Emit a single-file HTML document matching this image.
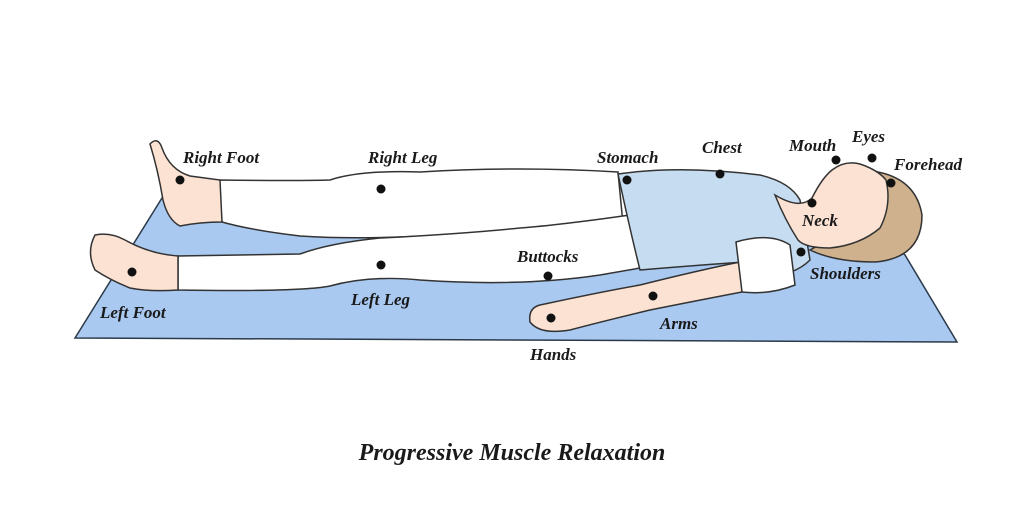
<!DOCTYPE html>
<html><head><style>
html,body{margin:0;padding:0;background:#fff;}
svg{display:block}
text{font-family:"Liberation Serif",serif;font-style:italic;font-weight:bold;fill:#1a1a1a;font-size:17px}
</style></head><body>
<svg width="1024" height="512" viewBox="0 0 1024 512">
<path d="M162,198 L300,196 L880,232 L905,255 L957,342 L75,338 Z" fill="#a9c9f1" stroke="#2b3a4a" stroke-width="1.5"/>
<path d="M218,180 Q300,181 330,180 Q360,170 420,172 Q520,166 618,172 L625,245 Q520,232 440,235 Q360,240 300,236 Q250,230 222,222 Z" fill="#fff" stroke="#333" stroke-width="1.5"/>
<path d="M150,144 Q158,136 162,148 Q170,170 190,176 L220,180 L222,222 Q200,222 180,226 Q168,220 163,200 Q158,170 150,144 Z" fill="#fbe2d3" stroke="#333" stroke-width="1.5"/>
<path d="M178,256 L178,290 Q300,292 330,286 Q370,275 420,280 Q520,287 600,275 L640,268 L630,215 Q560,225 520,228 Q460,234 380,238 Q330,243 300,254 Z" fill="#fff" stroke="#333" stroke-width="1.5"/>
<path d="M95,235 Q110,232 125,240 Q150,254 178,256 L178,290 Q150,292 130,288 Q110,280 95,270 Q86,252 95,235 Z" fill="#fbe2d3" stroke="#333" stroke-width="1.5"/>
<path d="M540,305 Q600,292 640,285 Q700,270 740,262 L742,292 Q700,300 650,310 Q600,322 570,330 Q540,335 530,322 Q528,308 540,305 Z" fill="#fbe2d3" stroke="#333" stroke-width="1.5"/>
<path d="M618,174 Q680,165 760,175 Q790,182 800,200 L810,260 Q790,280 750,275 L745,262 Q700,265 640,270 Q630,230 618,174 Z" fill="#c6dcf0" stroke="#333" stroke-width="1.5"/>
<path d="M736,242 Q770,232 790,245 L795,285 Q770,295 742,292 Z" fill="#fff" stroke="#333" stroke-width="1.5"/>
<!-- hair (behind) -->
<path d="M860,170 Q915,172 922,215 Q922,258 875,262 Q835,262 810,250 Q830,240 850,215 Z" fill="#cfb18e" stroke="#333" stroke-width="1.5"/>
<!-- face/neck -->
<path d="M775,195 Q800,210 812,198 Q822,178 832,170 Q845,160 860,164 Q878,170 886,180 Q892,205 880,228 Q860,245 830,248 Q805,248 798,240 Q785,220 775,195 Z" fill="#fbe2d3" stroke="#333" stroke-width="1.5"/>
<g fill="#111">
<circle cx="180" cy="180" r="4.5"/><circle cx="381" cy="189" r="4.5"/><circle cx="381" cy="265" r="4.5"/>
<circle cx="132" cy="272" r="4.5"/><circle cx="548" cy="276" r="4.5"/><circle cx="551" cy="318" r="4.5"/>
<circle cx="653" cy="296" r="4.5"/><circle cx="627" cy="180" r="4.5"/><circle cx="720" cy="174" r="4.5"/>
<circle cx="836" cy="160" r="4.5"/><circle cx="872" cy="158" r="4.5"/><circle cx="891" cy="183" r="4.5"/>
<circle cx="812" cy="203" r="4.5"/><circle cx="801" cy="252" r="4.5"/>
</g>
<text x="183" y="163">Right Foot</text>
<text x="368" y="163">Right Leg</text>
<text x="597" y="163">Stomach</text>
<text x="702" y="153">Chest</text>
<text x="789" y="151">Mouth</text>
<text x="852" y="142">Eyes</text>
<text x="894" y="170">Forehead</text>
<text x="802" y="226">Neck</text>
<text x="810" y="279">Shoulders</text>
<text x="517" y="262">Buttocks</text>
<text x="351" y="305">Left Leg</text>
<text x="100" y="318">Left Foot</text>
<text x="660" y="329">Arms</text>
<text x="530" y="360">Hands</text>
<text x="512" y="460" text-anchor="middle" style="font-size:24px">Progressive Muscle Relaxation</text>
</svg>
</body></html>
